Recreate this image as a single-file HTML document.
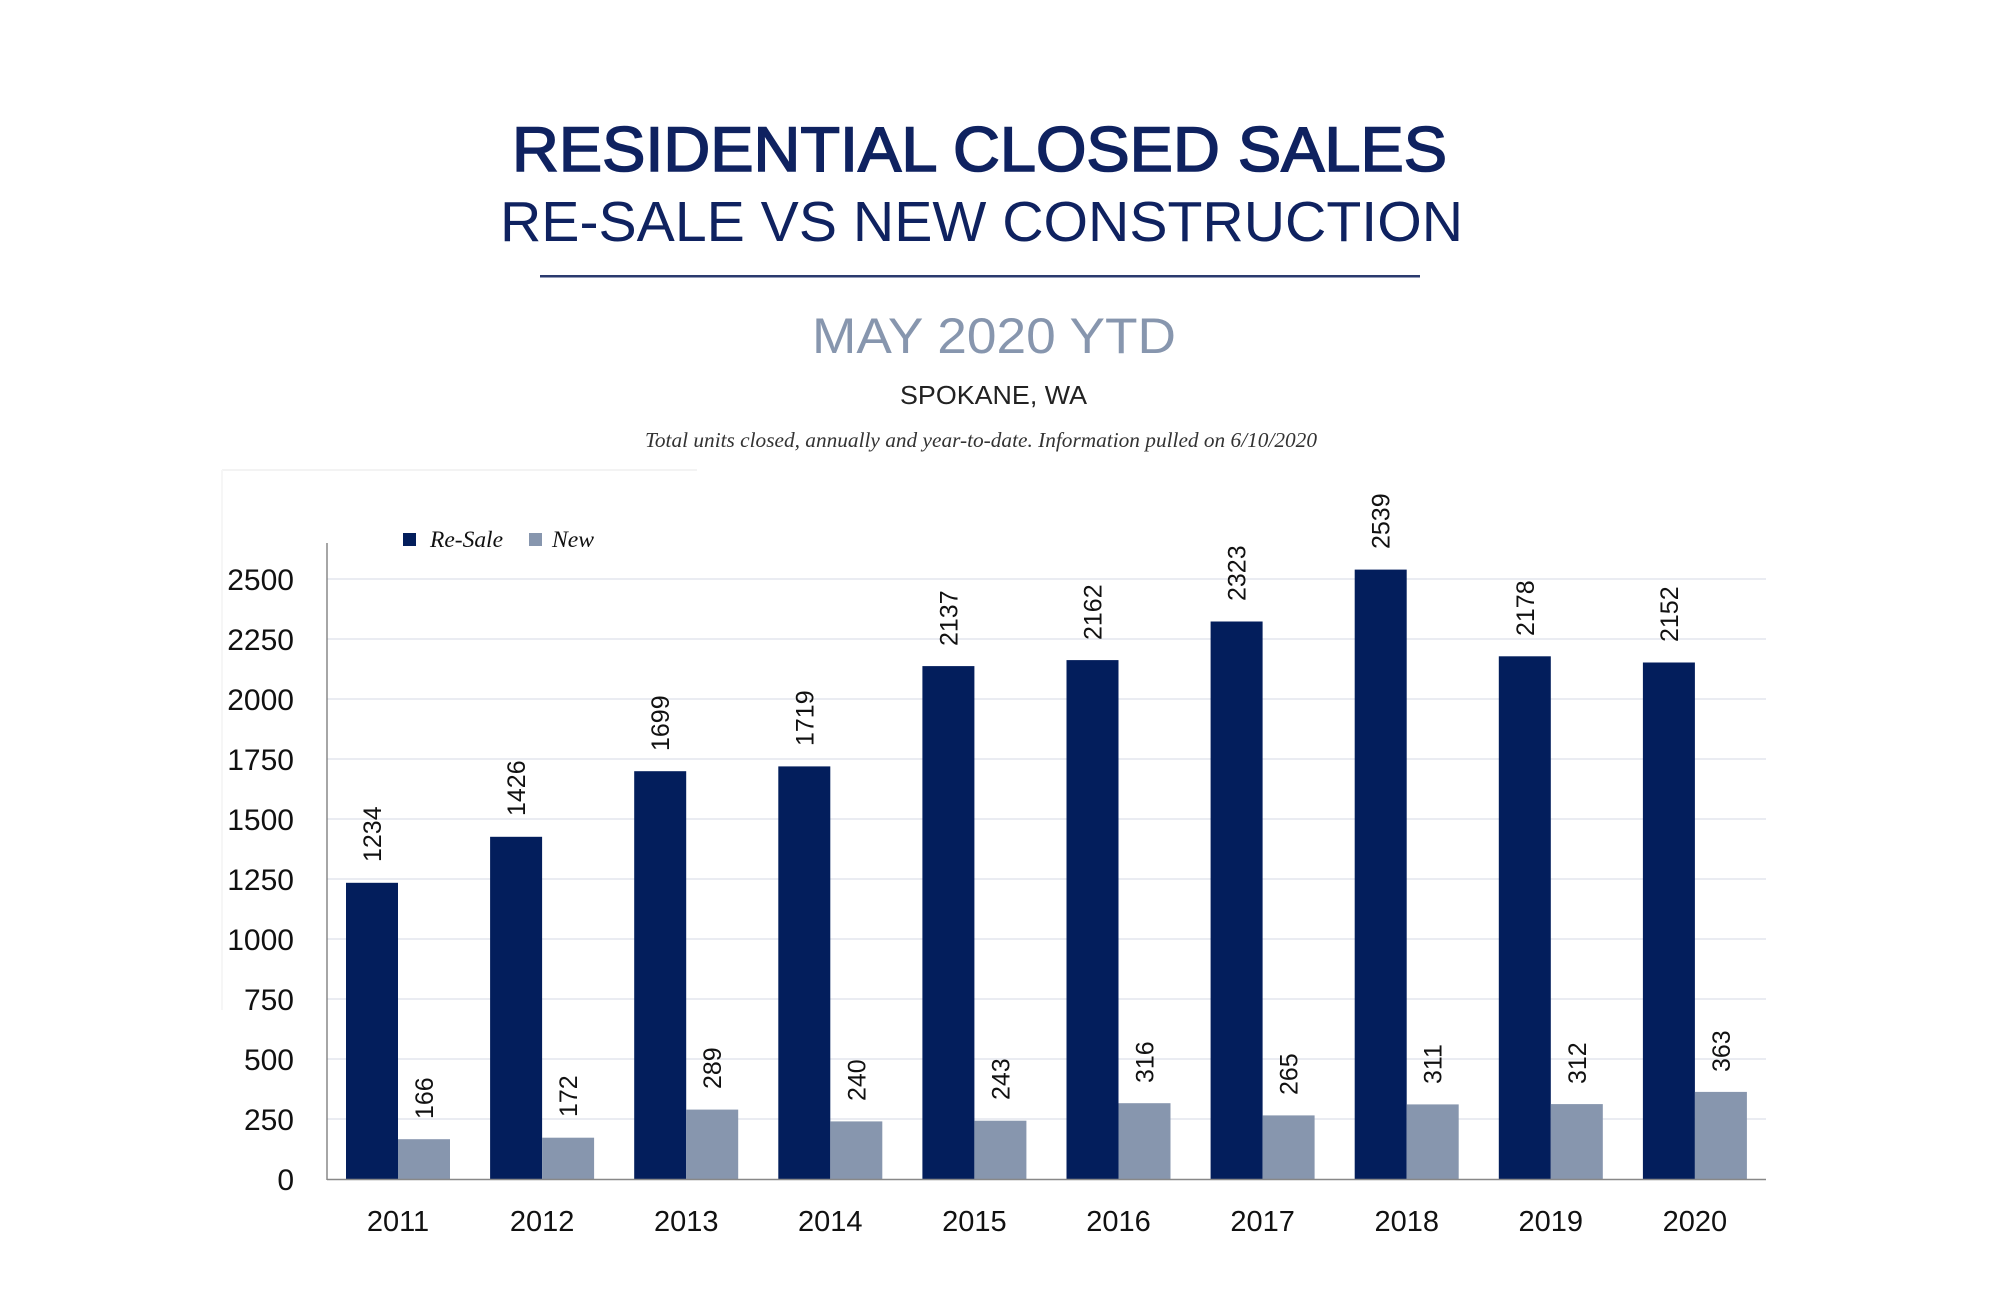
<!DOCTYPE html>
<html><head><meta charset="utf-8"><style>html,body{margin:0;padding:0;background:#fff}svg{display:block}</style></head>
<body>
<svg width="2000" height="1304" viewBox="0 0 2000 1304" xmlns="http://www.w3.org/2000/svg">
<rect width="2000" height="1304" fill="#fff"/>
<g font-family="Liberation Sans, sans-serif" text-anchor="start">
<text x="512" y="171" font-size="63" fill="#0f2260" stroke="#0f2260" stroke-width="1.6" textLength="935" lengthAdjust="spacingAndGlyphs">RESIDENTIAL CLOSED SALES</text>
<text x="500" y="241" font-size="57" fill="#0f2260" textLength="963" lengthAdjust="spacingAndGlyphs">RE-SALE VS NEW CONSTRUCTION</text>
<rect x="540" y="275" width="880" height="2.5" fill="#2a3a6e"/>
<text x="812" y="353" font-size="50" fill="#8796ae" textLength="364" lengthAdjust="spacingAndGlyphs">MAY 2020 YTD</text>
<text x="900" y="404" font-size="26" fill="#222" textLength="187" lengthAdjust="spacingAndGlyphs">SPOKANE, WA</text>
</g>
<text x="645" y="447" font-family="Liberation Serif, serif" font-style="italic" font-size="21" fill="#333" textLength="672" lengthAdjust="spacingAndGlyphs">Total units closed, annually and year-to-date.  Information pulled on 6/10/2020</text>
<line x1="222" y1="470" x2="697" y2="470" stroke="#f3f3f3" stroke-width="2"/>
<line x1="222" y1="470" x2="222" y2="1010" stroke="#f6f6f6" stroke-width="2"/>
<g stroke="#e3e6ee" stroke-width="1.5">
<line x1="327" x2="1766" y1="1119" y2="1119"/><line x1="327" x2="1766" y1="1059" y2="1059"/>
<line x1="327" x2="1766" y1="999" y2="999"/><line x1="327" x2="1766" y1="939" y2="939"/>
<line x1="327" x2="1766" y1="879" y2="879"/><line x1="327" x2="1766" y1="819" y2="819"/>
<line x1="327" x2="1766" y1="759" y2="759"/><line x1="327" x2="1766" y1="699" y2="699"/>
<line x1="327" x2="1766" y1="639" y2="639"/><line x1="327" x2="1766" y1="579" y2="579"/>
</g>
<g font-family="Liberation Sans, sans-serif" font-size="30" fill="#111" text-anchor="end">
<text x="294" y="1190">0</text><text x="294" y="1130">250</text><text x="294" y="1070">500</text>
<text x="294" y="1010">750</text><text x="294" y="950">1000</text><text x="294" y="890">1250</text>
<text x="294" y="830">1500</text><text x="294" y="770">1750</text><text x="294" y="710">2000</text>
<text x="294" y="650">2250</text><text x="294" y="590">2500</text>
</g>
<line x1="327" y1="543" x2="327" y2="1180" stroke="#888" stroke-width="1.5"/>
<rect x="403" y="533" width="13" height="13" fill="#031e5c"/>
<text x="430" y="547" font-family="Liberation Serif, serif" font-style="italic" font-size="23" fill="#111" textLength="73" lengthAdjust="spacingAndGlyphs">Re-Sale</text>
<rect x="529" y="533" width="13" height="13" fill="#8796ae"/>
<text x="552" y="547" font-family="Liberation Serif, serif" font-style="italic" font-size="23" fill="#111" textLength="42" lengthAdjust="spacingAndGlyphs">New</text>
<g font-family="Liberation Sans, sans-serif">
<rect x="346" y="882.8" width="52" height="296.2" fill="#031e5c"/><rect x="398" y="1139.2" width="52" height="39.8" fill="#8796ae"/>
<text transform="translate(381,862) rotate(-90)" font-size="25" fill="#111">1234</text><text transform="translate(433,1119) rotate(-90)" font-size="25" fill="#111">166</text>
<text x="398" y="1231" font-size="29" fill="#111" text-anchor="middle">2011</text>
<rect x="490.1" y="836.8" width="52" height="342.2" fill="#031e5c"/><rect x="542.1" y="1137.7" width="52" height="41.3" fill="#8796ae"/>
<text transform="translate(525.1,816) rotate(-90)" font-size="25" fill="#111">1426</text><text transform="translate(577.1,1117) rotate(-90)" font-size="25" fill="#111">172</text>
<text x="542.1" y="1231" font-size="29" fill="#111" text-anchor="middle">2012</text>
<rect x="634.2" y="771.2" width="52" height="407.8" fill="#031e5c"/><rect x="686.2" y="1109.6" width="52" height="69.4" fill="#8796ae"/>
<text transform="translate(669.2,751) rotate(-90)" font-size="25" fill="#111">1699</text><text transform="translate(721.2,1089) rotate(-90)" font-size="25" fill="#111">289</text>
<text x="686.2" y="1231" font-size="29" fill="#111" text-anchor="middle">2013</text>
<rect x="778.3" y="766.4" width="52" height="412.6" fill="#031e5c"/><rect x="830.3" y="1121.4" width="52" height="57.6" fill="#8796ae"/>
<text transform="translate(813.3,746) rotate(-90)" font-size="25" fill="#111">1719</text><text transform="translate(865.3,1101) rotate(-90)" font-size="25" fill="#111">240</text>
<text x="830.3" y="1231" font-size="29" fill="#111" text-anchor="middle">2014</text>
<rect x="922.4" y="666.1" width="52" height="512.9" fill="#031e5c"/><rect x="974.4" y="1120.7" width="52" height="58.3" fill="#8796ae"/>
<text transform="translate(957.4,646) rotate(-90)" font-size="25" fill="#111">2137</text><text transform="translate(1009.4,1100) rotate(-90)" font-size="25" fill="#111">243</text>
<text x="974.4" y="1231" font-size="29" fill="#111" text-anchor="middle">2015</text>
<rect x="1066.5" y="660.1" width="52" height="518.9" fill="#031e5c"/><rect x="1118.5" y="1103.2" width="52" height="75.8" fill="#8796ae"/>
<text transform="translate(1101.5,640) rotate(-90)" font-size="25" fill="#111">2162</text><text transform="translate(1153.5,1083) rotate(-90)" font-size="25" fill="#111">316</text>
<text x="1118.5" y="1231" font-size="29" fill="#111" text-anchor="middle">2016</text>
<rect x="1210.6" y="621.5" width="52" height="557.5" fill="#031e5c"/><rect x="1262.6" y="1115.4" width="52" height="63.6" fill="#8796ae"/>
<text transform="translate(1245.6,601) rotate(-90)" font-size="25" fill="#111">2323</text><text transform="translate(1297.6,1095) rotate(-90)" font-size="25" fill="#111">265</text>
<text x="1262.6" y="1231" font-size="29" fill="#111" text-anchor="middle">2017</text>
<rect x="1354.7" y="569.6" width="52" height="609.4" fill="#031e5c"/><rect x="1406.7" y="1104.4" width="52" height="74.6" fill="#8796ae"/>
<text transform="translate(1389.7,549) rotate(-90)" font-size="25" fill="#111">2539</text><text transform="translate(1441.7,1084) rotate(-90)" font-size="25" fill="#111">311</text>
<text x="1406.7" y="1231" font-size="29" fill="#111" text-anchor="middle">2018</text>
<rect x="1498.8" y="656.3" width="52" height="522.7" fill="#031e5c"/><rect x="1550.8" y="1104.1" width="52" height="74.9" fill="#8796ae"/>
<text transform="translate(1533.8,636) rotate(-90)" font-size="25" fill="#111">2178</text><text transform="translate(1585.8,1084) rotate(-90)" font-size="25" fill="#111">312</text>
<text x="1550.8" y="1231" font-size="29" fill="#111" text-anchor="middle">2019</text>
<rect x="1642.9" y="662.5" width="52" height="516.5" fill="#031e5c"/><rect x="1694.9" y="1091.9" width="52" height="87.1" fill="#8796ae"/>
<text transform="translate(1677.9,642) rotate(-90)" font-size="25" fill="#111">2152</text><text transform="translate(1729.9,1072) rotate(-90)" font-size="25" fill="#111">363</text>
<text x="1694.9" y="1231" font-size="29" fill="#111" text-anchor="middle">2020</text>
</g>
<line x1="327" y1="1179.5" x2="1766" y2="1179.5" stroke="#888" stroke-width="1.5"/>
</svg>
</body></html>
